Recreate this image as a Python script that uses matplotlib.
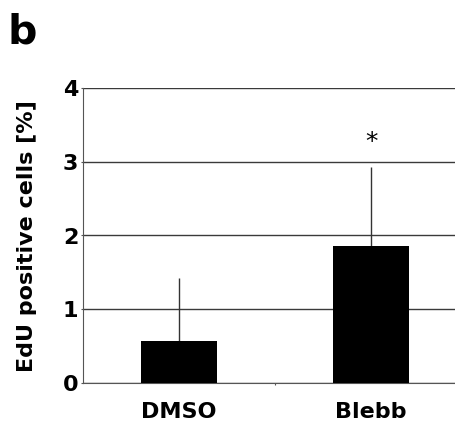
import numpy as np
import matplotlib
matplotlib.use("Agg")
import matplotlib.pyplot as plt

plt.rcParams['font.family'] = ['DejaVu Sans']

groups = ['DMSO', 'Blebb']
edu_mean = [0.57, 1.86]
edu_err = [0.85, 1.07]
yticks = [0, 1, 2, 3, 4]
star_y = 3.27

fig = plt.figure(figsize=(4.56, 4.23), dpi=100)
# axes runs past the right edge of the figure, as in the original panel
ax = fig.add_axes([83/456, 1 - 383/423, 384/456, 295/423])

x = np.arange(len(groups))
ax.bar(x, edu_mean, width=0.4, color='black', zorder=3)
ax.errorbar(x, edu_mean, yerr=[np.zeros(len(edu_err)), edu_err], fmt='none',
            ecolor='#333333', elinewidth=1.0, capsize=0, zorder=2)

ax.set_xlim(-0.5, len(groups) - 0.5)
ax.set_ylim(0, 4)
ax.set_yticks(yticks)
ax.set_yticklabels([str(t) for t in yticks], fontsize=16, fontweight='bold')
ax.set_xticks([0.5])
ax.set_xticklabels([''])
ax.tick_params(axis='x', length=1.5, width=0.8, color='#555555')
ax.tick_params(axis='y', length=1.5, width=0.8, color='#555555', pad=1.8)
for xi, g in zip(x, groups):
    ax.annotate(g, (xi, 0), xytext=(0, -25.2), textcoords='offset points',
                ha='center', va='baseline', fontsize=16, fontweight='bold',
                annotation_clip=False)

ax.yaxis.grid(True, color='#3a3a3a', linewidth=1.0, zorder=0)
ax.set_axisbelow(True)
for s in ['top', 'right']:
    ax.spines[s].set_visible(False)
ax.spines['left'].set_color('#555555')
ax.spines['bottom'].set_color('#555555')

ax.set_ylabel('EdU positive cells [%]', fontsize=16, fontweight='bold')
ax.yaxis.set_label_coords(-46/384, 0.497)
ax.text(1, star_y, '*', ha='center', va='center', fontsize=18)

fig.text(8/456, 1 - 43/423, 'b', fontsize=29.5, fontweight='bold', va='baseline')

plt.savefig('out.png', dpi=100)
